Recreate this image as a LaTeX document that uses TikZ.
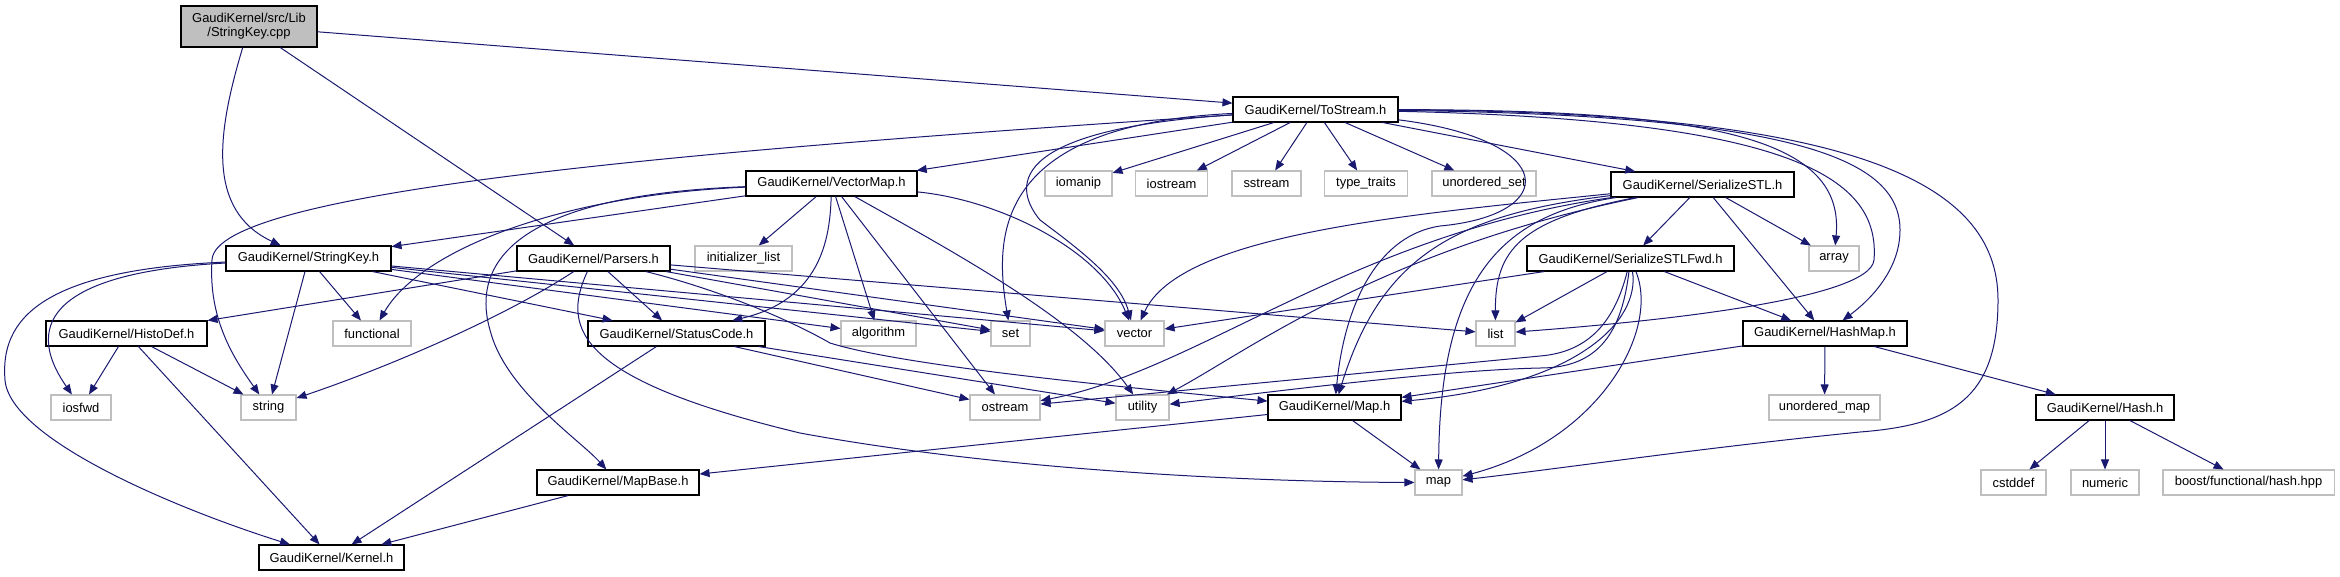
\documentclass[tikz,border=0pt]{standalone}
\usepackage{fontspec}
\setmainfont{Liberation Sans}
\usetikzlibrary{arrows.meta}
\definecolor{edgeblue}{HTML}{191970}
\definecolor{extgrey}{HTML}{BFBFBF}

\begin{document}
\begin{tikzpicture}[x=0.75pt,y=-0.75pt,
  every node/.style={font=\fontsize{9.7}{10.5}\selectfont,inner sep=0pt,minimum height=18.75pt},
  doc/.style={draw=black,fill=white,line width=0.8pt},
  ext/.style={draw=extgrey,fill=white,line width=0.8pt},
  wd/.style={minimum width=#1*0.75pt},
  inc/.style={draw=edgeblue,line width=0.75pt,-{Triangle[length=7.5pt,width=6pt]}}]

\useasboundingbox (0,0) rectangle (2340,576);

\node[doc,wd=136,minimum height=30.75pt,fill=extgrey,align=center] (cpp) at (249,26.5) {GaudiKernel/src/Lib\\/StringKey.cpp};
\node[doc,wd=165] (ts) at (1315.5,109.5) {GaudiKernel/ToStream.h};
\node[doc,wd=171] (vm) at (831.5,183.5) {GaudiKernel/VectorMap.h};
\node[ext,wd=67] (iomanip) at (1078.5,183.5) {iomanip};
\node[ext,wd=72] (iostream) at (1171.5,183.5) {iostream};
\node[ext,wd=69] (sstream) at (1266.5,183.5) {sstream};
\node[ext,wd=83] (typetr) at (1366,183.5) {type\_traits};
\node[ext,wd=104] (uset) at (1484,183.5) {unordered\_set};
\node[doc,wd=183] (sstl) at (1702.5,184.5) {GaudiKernel/SerializeSTL.h};
\node[doc,wd=165] (skh) at (308.5,258.5) {GaudiKernel/StringKey.h};
\node[doc,wd=153] (prs) at (593.5,258.5) {GaudiKernel/Parsers.h};
\node[ext,wd=97] (initl) at (743.5,258.5) {initializer\_list};
\node[doc,wd=207] (fwd) at (1630.5,258.5) {GaudiKernel/SerializeSTLFwd.h};
\node[ext,wd=50] (arr) at (1834,258.5) {array};
\node[doc,wd=161] (hdef) at (126.5,333.5) {GaudiKernel/HistoDef.h};
\node[ext,wd=78] (fnc) at (372,333.5) {functional};
\node[doc,wd=177] (stc) at (676.5,333.5) {GaudiKernel/StatusCode.h};
\node[ext,wd=75] (alg) at (878.5,333.5) {algorithm};
\node[ext,wd=39] (set) at (1010.5,333.5) {set};
\node[ext,wd=59] (vec) at (1134.5,333.5) {vector};
\node[ext,wd=39] (lst) at (1495.5,333.5) {list};
\node[doc,wd=164] (hm) at (1825,333.5) {GaudiKernel/HashMap.h};
\node[ext,wd=60] (iosf) at (81,407.5) {iosfwd};
\node[ext,wd=55] (str) at (268.5,407.5) {string};
\node[ext,wd=70] (ost) at (1005,407.5) {ostream};
\node[ext,wd=53] (utl) at (1142.5,407.5) {utility};
\node[doc,wd=133] (maph) at (1334.5,407.5) {GaudiKernel/Map.h};
\node[ext,wd=111] (umap) at (1824.5,407.5) {unordered\_map};
\node[doc,wd=138] (hash) at (2105,407.5) {GaudiKernel/Hash.h};
\node[doc,wd=162] (mpb) at (618,482.5) {GaudiKernel/MapBase.h};
\node[ext,wd=47] (mp) at (1438.5,482.5) {map};
\node[ext,wd=65] (cstd) at (2013.5,482.5) {cstddef};
\node[ext,wd=68] (num) at (2105,482.5) {numeric};
\node[ext,wd=171] (boost) at (2248.5,482.5) {boost/functional/hash.hpp};
\node[doc,wd=145] (kern) at (331.5,557.5) {GaudiKernel/Kernel.h};

%cpp
\draw [inc] (cpp) .. controls (218,130) and (205,210) .. (skh);
\draw [inc] (cpp) -- (prs);
\draw [inc] (cpp) -- (ts);

%ToStream
\draw [inc] (ts) -- (vm);
\draw [inc] (ts) -- (iomanip);
\draw [inc] (ts) -- (iostream);
\draw [inc] (ts) -- (sstream);
\draw [inc] (ts) -- (typetr);
\draw [inc] (ts) -- (uset);
\draw [inc] (ts) -- (sstl);
\draw [inc] (ts) .. controls (700,150) and (215,190) .. (212,260) .. controls (208,320) and (235,360) .. (str);
\draw [inc] (ts) .. controls (990,125) and (995,240) .. (set);
\draw [inc] (ts) .. controls (1000,130) and (1015,190) .. (1040,220) .. controls (1080,250) and (1120,280) .. (vec);
\draw [inc] (ts) .. controls (1720,110) and (1845,140) .. (arr);
\draw [inc] (ts) .. controls (1800,120) and (1880,180) .. (1874,260) .. controls (1870,300) and (1650,322) .. (lst);
\draw [inc] (ts) .. controls (1800,115) and (1900,160) .. (1900,230) .. controls (1900,270) and (1870,300) .. (hm);
\draw [inc] (ts) .. controls (1850,112) and (1998,180) .. (1998,300) .. controls (1998,400) and (1950,425) .. (1860,432) .. controls (1700,448) and (1550,470) .. (mp);
\draw [inc] (ts) .. controls (1560,140) and (1560,215) .. (1440,226) .. controls (1380,235) and (1345,300) .. (maph);

%SerializeSTL
\draw [inc] (sstl) -- (fwd);
\draw [inc] (sstl) -- (hm);
\draw [inc] (sstl) -- (arr);
\draw [inc] (sstl) .. controls (1400,215) and (1180,235) .. (vec);
\draw [inc] (sstl) .. controls (1350,235) and (1200,370) .. (ost);
\draw [inc] (sstl) .. controls (1380,250) and (1250,350) .. (utl);
\draw [inc] (sstl) .. controls (1450,215) and (1380,260) .. (maph);
\draw [inc] (sstl) .. controls (1520,220) and (1495,250) .. (lst);
\draw [inc] (sstl) .. controls (1500,215) and (1440,280) .. (mp);

%SerializeSTLFwd
\draw [inc] (fwd) -- (vec);
\draw [inc] (fwd) -- (lst);
\draw [inc] (fwd) -- (hm);
\draw [inc] (fwd) .. controls (1615,320) and (1590,352) .. (1540,356) -- (ost);
\draw [inc] (fwd) .. controls (1622,330) and (1600,368) .. (1540,368) .. controls (1450,370) and (1300,388) .. (utl);
\draw [inc] (fwd) .. controls (1640,320) and (1580,385) .. (maph);
\draw [inc] (fwd) .. controls (1660,330) and (1600,440) .. (mp);

%VectorMap
\draw [inc] (vm) -- (skh);
\draw [inc] (vm) .. controls (560,195) and (420,250) .. (fnc);
\draw [inc] (vm) .. controls (520,195) and (470,260) .. (490,330) .. controls (505,390) and (580,440) .. (mpb);
\draw [inc] (vm) -- (initl);
\draw [inc] (vm) .. controls (830,240) and (820,300) .. (stc);
\draw [inc] (vm) -- (alg);
\draw [inc] (vm) -- (ost);
\draw [inc] (vm) .. controls (950,250) and (1080,320) .. (utl);
\draw [inc] (vm) .. controls (1000,200) and (1100,250) .. (vec);

%StringKey
\draw [inc] (skh) .. controls (60,272) and (20,320) .. (iosf);
\draw [inc] (skh) .. controls (40,270) and (0,320) .. (5,380) .. controls (10,440) and (180,510) .. (kern);
\draw [inc] (skh) -- (str);
\draw [inc] (skh) -- (fnc);
\draw [inc] (skh) -- (stc);
\draw [inc] (skh) -- (alg);
\draw [inc] (skh) -- (set);
\draw [inc] (skh) -- (vec);

%Parsers
\draw [inc] (prs) -- (hdef);
\draw [inc] (prs) .. controls (500,320) and (380,370) .. (str);
\draw [inc] (prs) -- (stc);
\draw [inc] (prs) .. controls (560,330) and (580,380) .. (800,433) .. controls (1000,470) and (1250,482) .. (mp);
\draw [inc] (prs) .. controls (720,290) and (790,320) .. (830,343) .. controls (900,365) and (1100,385) .. (maph);
\draw [inc] (prs) -- (set);
\draw [inc] (prs) -- (vec);
\draw [inc] (prs) -- (lst);

%HistoDef, StatusCode
\draw [inc] (hdef) -- (iosf);
\draw [inc] (hdef) -- (str);
\draw [inc] (hdef) -- (kern);
\draw [inc] (stc) -- (ost);
\draw [inc] (stc) -- (utl);
\draw [inc] (stc) -- (kern);

%HashMap, Hash, Map
\draw [inc] (hm) -- (maph);
\draw [inc] (hm) -- (umap);
\draw [inc] (hm) -- (hash);
\draw [inc] (hash) -- (cstd);
\draw [inc] (hash) -- (num);
\draw [inc] (hash) -- (boost);
\draw [inc] (maph) -- (mp);
\draw [inc] (maph) -- (mpb);
\draw [inc] (mpb) -- (kern);
\end{tikzpicture}
\end{document}
